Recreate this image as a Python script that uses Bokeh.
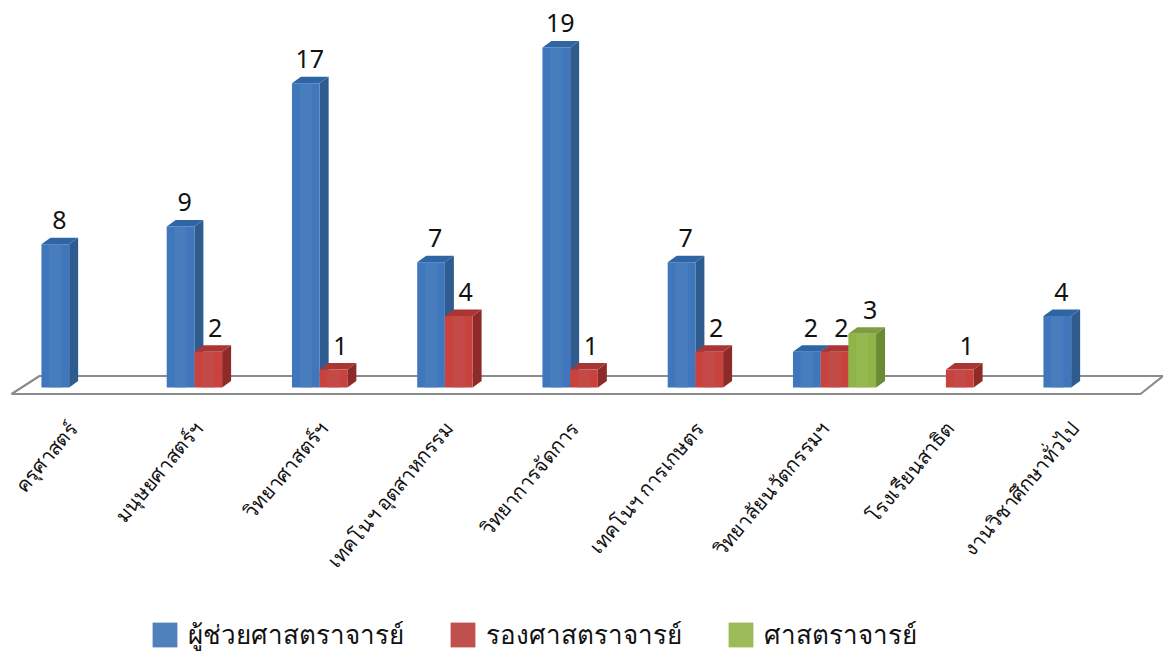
import math
from bokeh.embed import file_html
from bokeh.resources import INLINE
from bokeh.core.properties import value
from bokeh.models import (FixedTicker, Legend, LegendItem, LinearAxis, Range1d)
from bokeh.plotting import figure

categories = ["ครุศาสตร์", "มนุษยศาสตร์ฯ", "วิทยาศาสตร์ฯ", "เทคโนฯ อุตสาหกรรม", "วิทยาการจัดการ",
              "เทคโนฯ การเกษตร", "วิทยาลัยนวัตกรรมฯ", "โรงเรียนสาธิต", "งานวิชาศึกษาทั่วไป"]
series_names = ["ผู้ช่วยศาสตราจารย์", "รองศาสตราจารย์", "ศาสตราจารย์"]
assistant = [8, 9, 17, 7, 19, 7, 2, 0, 4]
associate = [0, 2, 1, 4, 1, 2, 2, 1, 0]
full_prof = [0, 0, 0, 0, 0, 0, 3, 0, 0]

FONT = "Noto Sans"
W, H = 1163, 655
PX_X, PX_Y = 125.25, 17.9      # pixels per category / per value
X0, Y0 = 82.5, 387             # page position of the first category and of value 0
BAR = 27.7 / PX_X
DX, DY = 9 / PX_X, 6.5 / PX_Y
TICK_SHIFT = -10 / PX_X

p = figure(width=W, height=H, output_backend="svg", toolbar_location=None,
           x_range=Range1d(-X0 / PX_X, (W - X0) / PX_X),
           y_range=Range1d(-(H - Y0) / PX_Y, Y0 / PX_Y),
           x_axis_location=None, y_axis_location=None, min_border=0, outline_line_color=None)
p.grid.visible = False

# floor
n = len(categories)
fl, fr = (11 - X0) / PX_X, (1140 - X0) / PX_X
back, front = (Y0 - 375.5) / PX_Y, (Y0 - 393.5) / PX_Y
p.patch([fl, fr, fr + 22.5 / PX_X, fl + 28 / PX_X], [front, front, back, back],
        fill_color="white", line_color="#8c8c8c", line_width=2.2)

palette = [("#4F81BD", "#3F76BC", "#2F5C8F", "#2E66A5"),
           ("#C0504D", "#C8433E", "#8E2B29", "#A93634"),
           ("#9BBB59", "#8FB447", "#6B8A33", "#7E9C42")]
label_dx = [4, 7, 8]
items = []
for s, vals in enumerate([assistant, associate, full_prof]):
    legend_col, face, side, top = palette[s]
    idx = [i for i, v in enumerate(vals) if v > 0]
    ys = [vals[i] for i in idx]
    lefts = [i + (s - 1.5) * BAR for i in idx]
    rights = [l + BAR for l in lefts]
    p.patches([[r, r + DX, r + DX, r] for r in rights],
              [[0, DY, v + DY, v] for v in ys], fill_color=side, line_color=None)
    p.patches([[l, r, r + DX, l + DX] for l, r in zip(lefts, rights)],
              [[v, v, v + DY, v + DY] for v in ys], fill_color=top, line_color=None)
    p.vbar(x=[l + BAR / 2 for l in lefts], width=BAR, top=ys, bottom=0, fill_color=face, line_color=None)
    p.vbar(x=[l + BAR / 2 for l in lefts], width=BAR * 0.45, top=ys, bottom=0, fill_color=legend_col,
           fill_alpha=0.55, line_color=None)
    key = p.vbar(x=[l + BAR / 2 for l in lefts][:1], width=0, top=ys[:1], bottom=0,
                 fill_color=legend_col, line_color=None)
    items.append((s, key))
    p.text(x=[l + BAR / 2 for l in lefts], y=ys, text=[str(v) for v in ys],
           x_offset=label_dx[s], y_offset=-24, text_align="center", text_baseline="alphabetic",
           text_font=value(FONT), text_font_size="25px", text_color="#111111")

ticks = [i + TICK_SHIFT for i in range(n)]
axis = LinearAxis(ticker=FixedTicker(ticks=ticks),
                  major_label_overrides={t: c for t, c in zip(ticks, categories)},
                  major_label_orientation=math.radians(50),
                  major_label_text_font=FONT, major_label_text_font_size="20px",
                  major_label_text_color="#111111",
                  axis_line_color=None, major_tick_line_color=None, minor_tick_line_color=None,
                  major_label_standoff=6, fixed_location=(Y0 - 412) / PX_Y)
p.add_layout(axis, "below")

legend = Legend(items=[LegendItem(label=series_names[s], renderers=[r]) for s, r in items],
                orientation="horizontal", location=(149, 0),
                label_text_font=FONT, label_text_font_size="26px", label_text_color="#111111",
                glyph_width=31, glyph_height=31, spacing=43, label_standoff=8,
                border_line_color=None, background_fill_color=None, padding=0, margin=0)
p.add_layout(legend, "center")

open("out.html", "w").write(file_html(p, INLINE))
